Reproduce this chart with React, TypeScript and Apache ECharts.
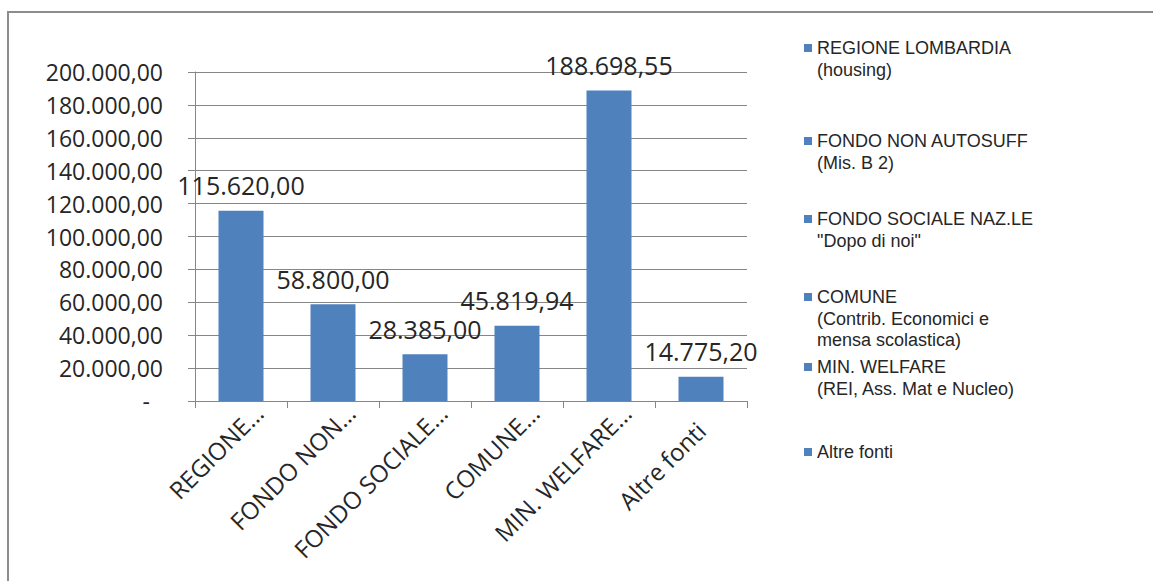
import React, { useEffect, useRef } from "react";
import * as echarts from "echarts";

const categories = ["REGIONE…", "FONDO NON…", "FONDO SOCIALE…", "COMUNE…", "MIN. WELFARE…", "Altre fonti"];
const seriesNames = [
  "REGIONE LOMBARDIA\n(housing)",
  "FONDO NON AUTOSUFF\n(Mis. B 2)",
  "FONDO SOCIALE NAZ.LE\n\"Dopo di noi\"",
  "COMUNE\n(Contrib. Economici e\nmensa scolastica)",
  "MIN. WELFARE\n(REI, Ass. Mat e Nucleo)",
  "Altre fonti",
];
const values = [115620.0, 58800.0, 28385.0, 45819.94, 188698.55, 14775.2];
const yTicks = { min: 0, max: 200000, interval: 20000 };

const LEGEND_CENTERS = [48, 141, 219, 297, 367, 452];
const LH = 21.5;
const ICON = 8;
const COLOR = "#4F81BD";
const TEXT = "#262626";
const FONT = "'Open Sans', sans-serif";
const LEGEND_FONT = "'Liberation Sans', Arial, sans-serif";

function fmt(v: number): string {
  const fixed = v.toFixed(2);
  const [ip, dp] = fixed.split(".");
  const withDots = ip.replace(/\B(?=(\d{3})+(?!\d))/g, ".");
  return withDots + "," + dp;
}

export default function App() {
  const ref = useRef<HTMLDivElement>(null);
  useEffect(() => {
    document.body.style.margin = "0";
    if (!ref.current) return;
    const chart = echarts.init(ref.current, null, { renderer: "svg" });

    const series = seriesNames.map((name, i) => ({
      name,
      type: "bar",
      stack: "all",
      barWidth: 45,
      itemStyle: { color: COLOR },
      data: values.map((v, j) => (j === i ? v : null)),
      label: {
        show: true,
        position: "top",
        distance: 13,
        fontFamily: FONT,
        fontSize: 25,
        color: TEXT,
        formatter: (p: any) => fmt(p.value),
      },
    }));

    const legends = seriesNames.map((name, i) => {
      const n = name.split("\n").length;
      const h = ICON + (n - 1) * LH;
      const icon =
        n === 1
          ? "rect"
          : `path://M0,0H${ICON}V${ICON}H0Z M${ICON},${h} L${ICON},${h}`;
      return {
        data: [name],
        left: 804,
        top: LEGEND_CENTERS[i] - LH / 2,
        padding: 0,
        orient: "vertical",
        icon,
        itemWidth: ICON,
        itemHeight: h,
        selectedMode: false,
        textStyle: {
          fontFamily: LEGEND_FONT,
          fontSize: 18,
          color: TEXT,
          lineHeight: LH,
        },
      };
    });

    const xLabelBase = { fontFamily: FONT, fontSize: 24, color: TEXT, lineHeight: 50 };

    chart.setOption({
      animation: false,
      graphic: [
        { type: "line", shape: { x1: 7, y1: 12, x2: 1153, y2: 12 }, style: { stroke: "#8c8c8c", lineWidth: 2 } },
        { type: "line", shape: { x1: 8, y1: 11, x2: 8, y2: 581 }, style: { stroke: "#8c8c8c", lineWidth: 2 } },
      ],
      grid: { left: 195, right: 406, top: 72, bottom: 180, containLabel: false },
      legend: legends,
      xAxis: {
        type: "category",
        data: categories,
        axisLine: { show: true, lineStyle: { color: "#868686", width: 1 } },
        axisTick: { show: true, length: 7, lineStyle: { color: "#868686" } },
        axisLabel: {
          rotate: 45,
          interval: 0,
          margin: -10,
          verticalAlign: "top",
          ...xLabelBase,
          formatter: (v: string) => (v.endsWith("…") ? `{t|${v}}` : `{w|${v}}`),
          rich: {
            t: { ...xLabelBase },
            w: { ...xLabelBase, padding: [0, 25, 0, 0] },
          },
        },
      },
      yAxis: {
        type: "value",
        min: yTicks.min,
        max: yTicks.max,
        interval: yTicks.interval,
        axisLine: { show: true, lineStyle: { color: "#868686", width: 1 } },
        axisTick: { show: true, length: 7, lineStyle: { color: "#868686" } },
        splitLine: { show: true, lineStyle: { color: "#868686", width: 1 } },
        axisLabel: {
          margin: 32,
          fontFamily: FONT,
          fontSize: 23,
          color: TEXT,
          formatter: (v: number) => (v === 0 ? "-\u2007" : fmt(v)),
        },
      },
      series,
    });
    return () => chart.dispose();
  }, []);
  return <div ref={ref} style={{ width: 1153, height: 581 }} />;
}
